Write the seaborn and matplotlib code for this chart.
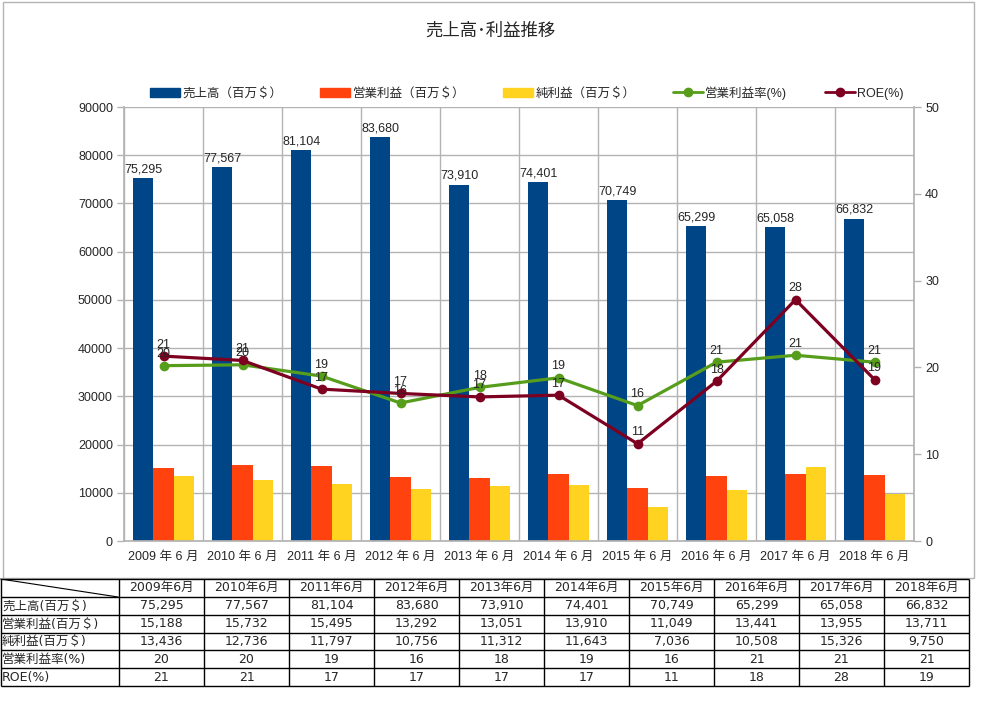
import numpy as np
import pandas as pd
import matplotlib
matplotlib.use("Agg")
import matplotlib.pyplot as plt
import seaborn as sns
from matplotlib.patches import Patch, Rectangle
from matplotlib.lines import Line2D

# ── data ─────────────────────────────────────────────────
periods    = ["2009年6月", "2010年6月", "2011年6月", "2012年6月", "2013年6月",
              "2014年6月", "2015年6月", "2016年6月", "2017年6月", "2018年6月"]
sales      = [75295, 77567, 81104, 83680, 73910, 74401, 70749, 65299, 65058, 66832]
op_profit  = [15188, 15732, 15495, 13292, 13051, 13910, 11049, 13441, 13955, 13711]
net_profit = [13436, 12736, 11797, 10756, 11312, 11643, 7036, 10508, 15326, 9750]
op_margin  = [20, 20, 19, 16, 18, 19, 16, 21, 21, 21]          # table / labels
roe        = [21, 21, 17, 17, 17, 17, 11, 18, 28, 19]
op_margin_line = [20.2, 20.3, 19.0, 15.9, 17.7, 18.8, 15.6, 20.6, 21.4, 20.6]
roe_line       = [21.3, 20.8, 17.5, 17.0, 16.6, 16.8, 11.2, 18.4, 27.8, 18.6]

bar_names  = ["売上高（百万＄）", "営業利益（百万＄）", "純利益（百万＄）"]
line_names = ["営業利益率(%)", "ROE(%)"]
row_names  = ["売上高(百万＄)", "営業利益(百万＄)", "純利益(百万＄)",
              "営業利益率(%)", "ROE(%)"]

BLUE, ORANGE, YELLOW = "#004586", "#ff420e", "#ffd320"
GREEN, WINE = "#579d1c", "#7e0021"
GRID = "#b3b3b3"
CHART_FONT = ["Liberation Sans", "Noto Sans CJK JP"]
TABLE_FONT = ["DejaVu Sans", "Noto Sans CJK JP"]

sns.set_theme(style="white")
plt.rcParams["font.family"] = CHART_FONT

W, H = 981, 709
fig = plt.figure(figsize=(W / 100, H / 100), dpi=100)

# ── background layer: frame + table (pixel coords) ───────
tab = fig.add_axes([0, 0, 1, 1])
tab.set_xlim(0, W); tab.set_ylim(H, 0); tab.axis("off")
tab.add_patch(Rectangle((2.5, 1.5), 971, 576, fill=False, ec=GRID, lw=1))

col_x = np.concatenate([[0.5], np.linspace(119, 969, 11)])
row_y = np.linspace(579, 686, 7)
tab.hlines(row_y, 0.5, 969, color="black", lw=1)
tab.vlines(col_x, 579, 686, color="black", lw=1)
tab.plot([0.5, 118], [579, 597], color="black", lw=0.8)

cx = (col_x[1:-1] + col_x[2:]) / 2
cy = (row_y[:-1] + row_y[1:]) / 2
for j, p in enumerate(periods):
    tab.text(cx[j], cy[0], p, ha="center", va="center", fontsize=9, family=TABLE_FONT)
rows = [[f"{v:,}" for v in sales], [f"{v:,}" for v in op_profit],
        [f"{v:,}" for v in net_profit], [str(v) for v in op_margin],
        [str(v) for v in roe]]
for i, (name, vals) in enumerate(zip(row_names, rows)):
    tab.text(2, cy[i + 1], name, ha="left", va="center", fontsize=9, family=TABLE_FONT)
    for j, s in enumerate(vals):
        tab.text(cx[j], cy[i + 1], s, ha="center", va="center", fontsize=9,
                 family=TABLE_FONT)

# ── bars ─────────────────────────────────────────────────
ax = fig.add_axes([124 / W, 1 - 541 / H, 790 / W, 434 / H])
df = pd.DataFrame({"period": periods * 3,
                   "series": np.repeat(bar_names, len(periods)),
                   "value": sales + op_profit + net_profit})
sns.barplot(df, x="period", y="value", hue="series", palette=[BLUE, ORANGE, YELLOW],
            width=0.76, saturation=1, errorbar=None, linewidth=0, legend=False, ax=ax)
ax.bar_label(ax.containers[0], labels=[f"{v:,}" for v in sales], padding=2, fontsize=9)

ax.set_xlim(-0.5, len(periods) - 0.5)
ax.set_ylim(0, 90000)
ax.set_yticks(range(0, 90001, 10000))
ax.set_xticks(np.arange(-0.5, len(periods), 1), minor=True)
ax.set_xticklabels([p.replace("年", " 年 ").replace("月", " 月") for p in periods])
ax.set_xlabel(""); ax.set_ylabel("")
ax.grid(axis="y", which="major", color=GRID, lw=1)
ax.grid(axis="x", which="minor", color=GRID, lw=1)
ax.set_axisbelow(True)
ax.tick_params(axis="x", which="major", length=0, pad=7, labelsize=9)
ax.tick_params(axis="x", which="minor", length=6, color=GRID, width=1)
ax.tick_params(axis="y", left=True, length=5, color=GRID, width=1, pad=3, labelsize=9)
for s in ["top", "right"]:
    ax.spines[s].set_visible(False)
for s in ["left", "bottom"]:
    ax.spines[s].set_color(GRID)

# ── lines on secondary axis ──────────────────────────────
ax2 = ax.twinx()
xi = np.arange(len(periods))
sns.lineplot(x=xi, y=op_margin_line, color=GREEN, lw=2.3, marker="o", markersize=7,
             markeredgewidth=0, ax=ax2)
sns.lineplot(x=xi, y=roe_line, color=WINE, lw=2.3, marker="o", markersize=7,
             markeredgewidth=0, ax=ax2)
for i in xi:
    ax2.annotate(str(op_margin[i]), (i, op_margin_line[i]), xytext=(0, 4),
                 textcoords="offset points", ha="center", va="bottom", fontsize=9)
    ax2.annotate(str(roe[i]), (i, roe_line[i]), xytext=(0, 4),
                 textcoords="offset points", ha="center", va="bottom", fontsize=9)
ax2.set_ylim(0, 50)
ax2.set_yticks(range(0, 51, 10))
ax2.grid(False)
ax2.tick_params(axis="y", right=True, length=5, color=GRID, width=1, pad=3, labelsize=9)
for s in ["top", "left", "bottom"]:
    ax2.spines[s].set_visible(False)
ax2.spines["right"].set_color(GRID)

# ── title + legend ───────────────────────────────────────
fig.text(0.5, 1 - 31 / H, "売上高･利益推移", ha="center", va="center", fontsize=12.5,
         family=["Noto Sans CJK JP"])
handles = [Patch(color=c) for c in (BLUE, ORANGE, YELLOW)] + \
          [Line2D([], [], color=c, lw=2, marker="o", markersize=6) for c in (GREEN, WINE)]
fig.legend(handles, bar_names + line_names, loc="center", ncol=5,
           bbox_to_anchor=(527 / W, 1 - 93 / H), frameon=False, fontsize=9,
           handlelength=2.4, handletextpad=0.2, columnspacing=3.0)

fig.savefig("out.png", dpi=100)
